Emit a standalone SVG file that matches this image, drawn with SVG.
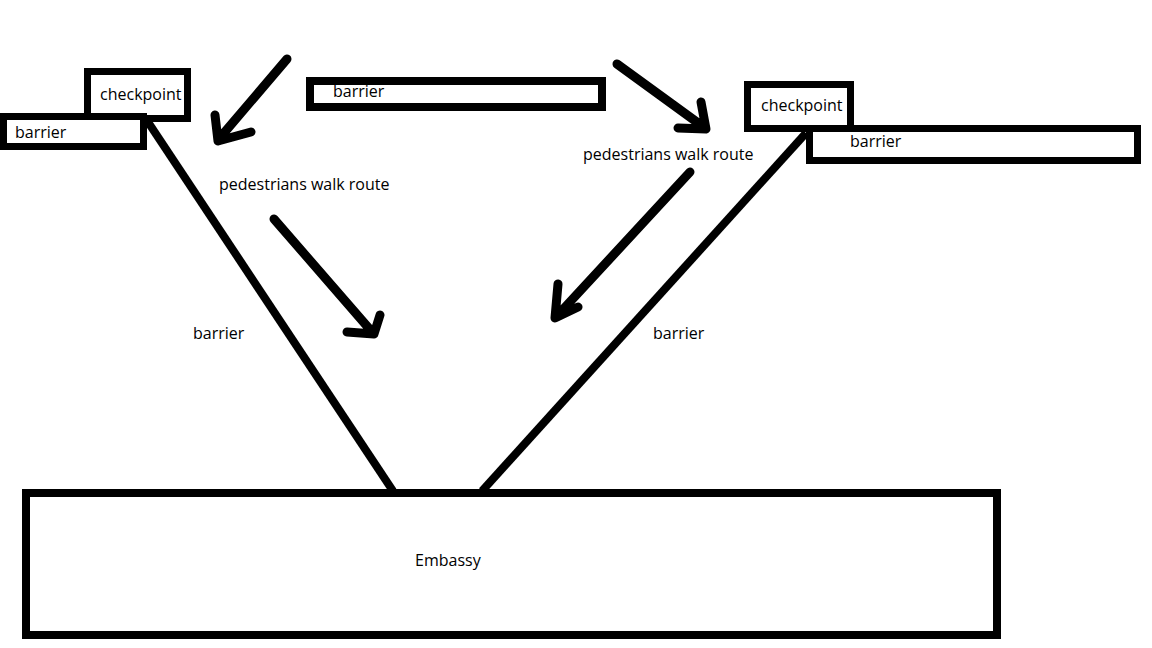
<svg xmlns="http://www.w3.org/2000/svg" width="1152" height="648" viewBox="0 0 1152 648">
<style>
.box{fill:#fff;stroke:#000;stroke-width:7}
.bar{stroke:#000;stroke-width:8;fill:none}
.arr{stroke:#000;stroke-width:9;fill:none;stroke-linecap:round;stroke-linejoin:round}
text{font-family:"Open Sans","Liberation Sans",sans-serif;font-size:16px;fill:#000}
</style>
<rect width="1152" height="648" fill="#fff"/>
<g id="connectors">
<line class="bar" x1="146" y1="119" x2="393" y2="491"/>
<line class="bar" x1="806" y1="133" x2="482" y2="491"/>
<path class="arr" d="M287 59 L218 140 M215 115 L218 141 L251 132"/>
<path class="arr" d="M617 64 L705 128 M701 102 L706 129 L678 128"/>
<path class="arr" d="M274 219 L373 333 M380 315 L374 334 L347 332"/>
<path class="arr" d="M690 172 L556 317 M558 284 L555 318 L578 307"/>
</g>
<g id="checkpoint-left"><rect class="box" x="87.5" y="71.5" width="100" height="47"/><text x="100" y="100">checkpoint</text></g>
<g id="barrier-left"><rect class="box" x="3.5" y="116.5" width="140" height="30"/><text x="15" y="138">barrier</text></g>
<g id="barrier-top"><rect class="box" x="310" y="81" width="292" height="26" style="stroke-width:8"/><text x="333" y="97">barrier</text></g>
<g id="checkpoint-right"><rect class="box" x="747.5" y="84.5" width="103" height="44"/><text x="761" y="111">checkpoint</text></g>
<g id="barrier-right"><rect class="box" x="809.5" y="128.5" width="328" height="32"/><text x="850" y="147">barrier</text></g>
<g id="label-route-left"><text x="219" y="190">pedestrians walk route</text></g>
<g id="label-route-right"><text x="583" y="160">pedestrians walk route</text></g>
<g id="label-barrier-left"><text x="193" y="339">barrier</text></g>
<g id="label-barrier-right"><text x="653" y="339">barrier</text></g>
<g id="embassy"><rect class="box" x="26" y="493" width="971" height="142" style="stroke-width:8"/><text x="415" y="566">Embassy</text></g>
</svg>
